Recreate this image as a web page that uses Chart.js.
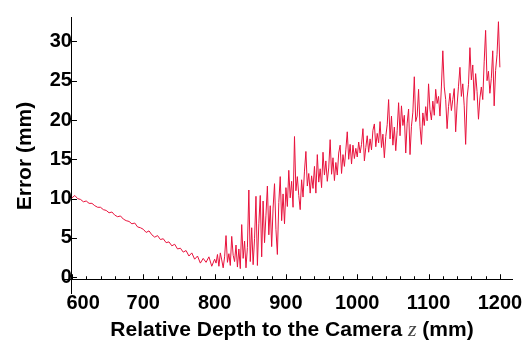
<!DOCTYPE html>
<html>
<head>
<meta charset="utf-8">
<script src="https://cdn.jsdelivr.net/npm/chart.js@4.4.0/dist/chart.umd.min.js"></script>
<style>
  html, body { margin: 0; padding: 0; background: #fff; }
  #wrap { width: 531px; height: 341px; }
</style>
</head>
<body>
<div id="wrap"><canvas id="errChart" width="531" height="341"></canvas></div>
<script>
// depth to the camera (mm): 4 mm steps up to 800, 2 mm steps after
const depthMm = [
  600, 604, 608, 612, 616, 620, 624, 628, 632, 636,
  640, 644, 648, 652, 656, 660, 664, 668, 672, 676,
  680, 684, 688, 692, 696, 700, 704, 708, 712, 716,
  720, 724, 728, 732, 736, 740, 744, 748, 752, 756,
  760, 764, 768, 772, 776, 780, 784, 788, 792, 796,
  800,
  802, 804, 806, 808, 810, 812, 814, 816, 818, 820,
  822, 824, 826, 828, 830, 832, 834, 836, 838, 840,
  842, 844, 846, 848, 850, 852, 854, 856, 858, 860,
  862, 864, 866, 868, 870, 872, 874, 876, 878, 880,
  882, 884, 886, 888, 890, 892, 894, 896, 898, 900,
  902, 904, 906, 908, 910, 912, 914, 916, 918, 920,
  922, 924, 926, 928, 930, 932, 934, 936, 938, 940,
  942, 944, 946, 948, 950, 952, 954, 956, 958, 960,
  962, 964, 966, 968, 970, 972, 974, 976, 978, 980,
  982, 984, 986, 988, 990, 992, 994, 996, 998, 1000,
  1002, 1004, 1006, 1008, 1010, 1012, 1014, 1016, 1018, 1020,
  1022, 1024, 1026, 1028, 1030, 1032, 1034, 1036, 1038, 1040,
  1042, 1044, 1046, 1048, 1050, 1052, 1054, 1056, 1058, 1060,
  1062, 1064, 1066, 1068, 1070, 1072, 1074, 1076, 1078, 1080,
  1082, 1084, 1086, 1088, 1090, 1092, 1094, 1096, 1098, 1100,
  1102, 1104, 1106, 1108, 1110, 1112, 1114, 1116, 1118, 1120,
  1122, 1124, 1126, 1128, 1130, 1132, 1134, 1136, 1138, 1140,
  1142, 1144, 1146, 1148, 1150, 1152, 1154, 1156, 1158, 1160,
  1162, 1164, 1166, 1168, 1170, 1172, 1174, 1176, 1178, 1180,
  1182, 1184, 1186, 1188, 1190, 1192, 1194, 1196, 1198, 1200
];
// mean reconstruction error (mm)
const errorMm = [
  10.1, 10.4, 10.0, 9.9, 9.6, 9.7, 9.4, 9.4, 9.1, 8.9,
  8.9, 8.6, 8.5, 8.2, 8.3, 7.9, 7.7, 7.8, 7.4, 7.2,
  7.1, 6.8, 6.9, 6.4, 6.3, 6.1, 5.7, 5.9, 5.4, 5.1,
  5.3, 4.8, 4.9, 4.4, 4.5, 4.0, 4.2, 3.6, 3.7, 3.2,
  3.4, 2.7, 3.1, 2.3, 2.7, 1.8, 2.4, 1.9, 2.6, 1.4,
  2.3,
  1.8, 2.9, 1.4, 3.1, 2.2, 1.2, 2.6, 5.3, 1.9, 3.0,
  1.5, 5.2, 2.8, 2.0, 4.1, 1.3, 3.6, 1.1, 6.7, 2.4,
  4.6, 1.2, 3.8, 11.1, 2.0, 6.3, 1.6, 4.9, 10.3, 1.5,
  6.8, 10.4, 2.6, 9.7, 4.4, 7.9, 11.6, 5.4, 9.1, 3.9,
  8.8, 11.9, 6.1, 2.9, 9.5, 12.8, 7.2, 10.6, 6.8, 11.4,
  9.0, 13.6, 10.1, 12.2, 8.9, 17.9, 11.0, 12.8, 10.4, 8.6,
  12.4, 10.2, 13.5, 16.0, 11.6, 13.2, 10.7, 12.9, 11.3, 14.1,
  10.7, 15.6, 12.1, 13.8, 11.4, 15.9, 13.0, 14.8, 12.2, 13.9,
  17.5, 13.1, 15.2, 12.3, 14.6, 13.0, 15.8, 16.8, 13.2, 15.6,
  14.1, 16.2, 18.5, 15.0, 16.9, 14.4, 16.8, 15.1, 16.4, 15.3,
  17.2, 15.8, 16.9, 18.9, 14.8, 16.5, 18.0, 15.9, 17.6, 16.2,
  18.7, 19.5, 16.6, 18.3, 17.1, 19.8, 16.5, 18.2, 15.2, 17.9,
  19.4, 22.6, 17.6, 20.5, 16.8, 19.1, 16.1, 18.7, 22.2, 18.0,
  21.8, 19.3, 20.6, 15.8, 19.6, 21.4, 15.6, 19.2, 21.0, 25.5,
  19.8, 20.5, 23.9, 19.2, 16.9, 20.9, 19.3, 21.7, 19.9, 24.6,
  21.3, 20.0, 22.4, 20.6, 23.9, 22.1, 23.0, 20.5, 24.2, 28.8,
  24.2, 22.6, 18.9, 21.7, 23.4, 21.2, 22.6, 24.0, 18.5, 21.9,
  24.3, 26.7, 23.0, 24.6, 21.8, 16.9, 22.8, 24.5, 29.2, 25.1,
  27.0, 22.5, 25.9, 23.6, 20.1, 22.8, 24.2, 22.6, 27.4, 31.4,
  25.0, 26.2, 23.4, 25.3, 28.8, 21.8, 26.3, 28.3, 32.5, 26.7
];
const xTickValues = [600, 700, 800, 900, 1000, 1100, 1200];
const yTickValues = [0, 5, 10, 15, 20, 25, 30];

const boldTitle = "bold 21px 'Liberation Sans', Arial, sans-serif";

// inward tick marks + axis titles (x title has an italic z)
const axisDecor = {
  id: 'axisDecor',
  afterDraw(chart) {
    const ctx = chart.ctx;
    const xs = chart.scales.x, ys = chart.scales.y;
    const x0 = xs.getPixelForValue(600);
    const y0 = ys.getPixelForValue(-0.25);
    ctx.save();
    ctx.strokeStyle = '#000';
    ctx.lineWidth = 1;
    ctx.beginPath();
    for (let v = 600; v <= 1200; v += 20) {
      const px = Math.round(xs.getPixelForValue(v)) + 0.5;
      const len = v % 100 === 0 ? 5 : 3;
      ctx.moveTo(px, y0);
      ctx.lineTo(px, y0 - len);
    }
    yTickValues.forEach(v => {
      const py = Math.round(ys.getPixelForValue(v)) + 0.5;
      ctx.moveTo(x0, py);
      ctx.lineTo(x0 + 5, py);
    });
    ctx.stroke();

    ctx.fillStyle = '#000';
    ctx.save();
    ctx.translate(25, 156);
    ctx.rotate(-Math.PI / 2);
    ctx.font = boldTitle;
    ctx.textAlign = 'center';
    ctx.textBaseline = 'middle';
    ctx.fillText('Error (mm)', 0, 0);
    ctx.restore();

    const parts = [
      { t: 'Relative Depth to the Camera ', f: boldTitle },
      { t: 'z', f: "italic 22px 'Liberation Serif', 'Times New Roman', serif" },
      { t: ' (mm)', f: boldTitle }
    ];
    let total = 0;
    parts.forEach(p => { ctx.font = p.f; p.w = ctx.measureText(p.t).width; total += p.w; });
    let cx = 292 - total / 2;
    ctx.textBaseline = 'alphabetic';
    ctx.textAlign = 'left';
    parts.forEach(p => {
      ctx.font = p.f;
      ctx.fillStyle = p.t === 'z' ? '#444' : '#000';
      ctx.fillText(p.t, cx, 336);
      cx += p.w;
    });
    ctx.restore();
  }
};

new Chart(document.getElementById('errChart'), {
  type: 'line',
  data: {
    datasets: [{
      data: depthMm.map((d, i) => ({ x: d, y: errorMm[i] })),
      borderColor: '#e8123c',
      borderWidth: 1,
      pointRadius: 0,
      tension: 0,
      fill: false
    }]
  },
  options: {
    responsive: false,
    animation: false,
    layout: { padding: { left: 62, right: 19, top: 8, bottom: 48 } },
    plugins: { legend: { display: false }, tooltip: { enabled: false } },
    scales: {
      x: {
        type: 'linear',
        min: 586,
        max: 1217,
        position: { y: -0.25 },
        afterBuildTicks: s => { s.ticks = xTickValues.map(v => ({ value: v })); },
        grid: { display: false },
        border: { display: true, color: '#000', width: 1 },
        ticks: {
          padding: 4,
          color: '#000',
          font: { family: "'Liberation Sans', Arial, sans-serif", size: 20, weight: 'bold' },
          maxRotation: 0,
          autoSkip: false,
          callback: v => (v === 600 ? '    600' : String(v))
        }
      },
      y: {
        type: 'linear',
        min: -2,
        max: 33.1,
        position: { x: 600 },
        afterBuildTicks: s => { s.ticks = yTickValues.map(v => ({ value: v })); },
        grid: { display: false },
        border: { display: true, color: '#000', width: 1 },
        ticks: {
          padding: 5,
          color: '#000',
          font: { family: "'Liberation Sans', Arial, sans-serif", size: 20, weight: 'bold' },
          autoSkip: false
        }
      }
    }
  },
  plugins: [axisDecor]
});
</script>
</body>
</html>
